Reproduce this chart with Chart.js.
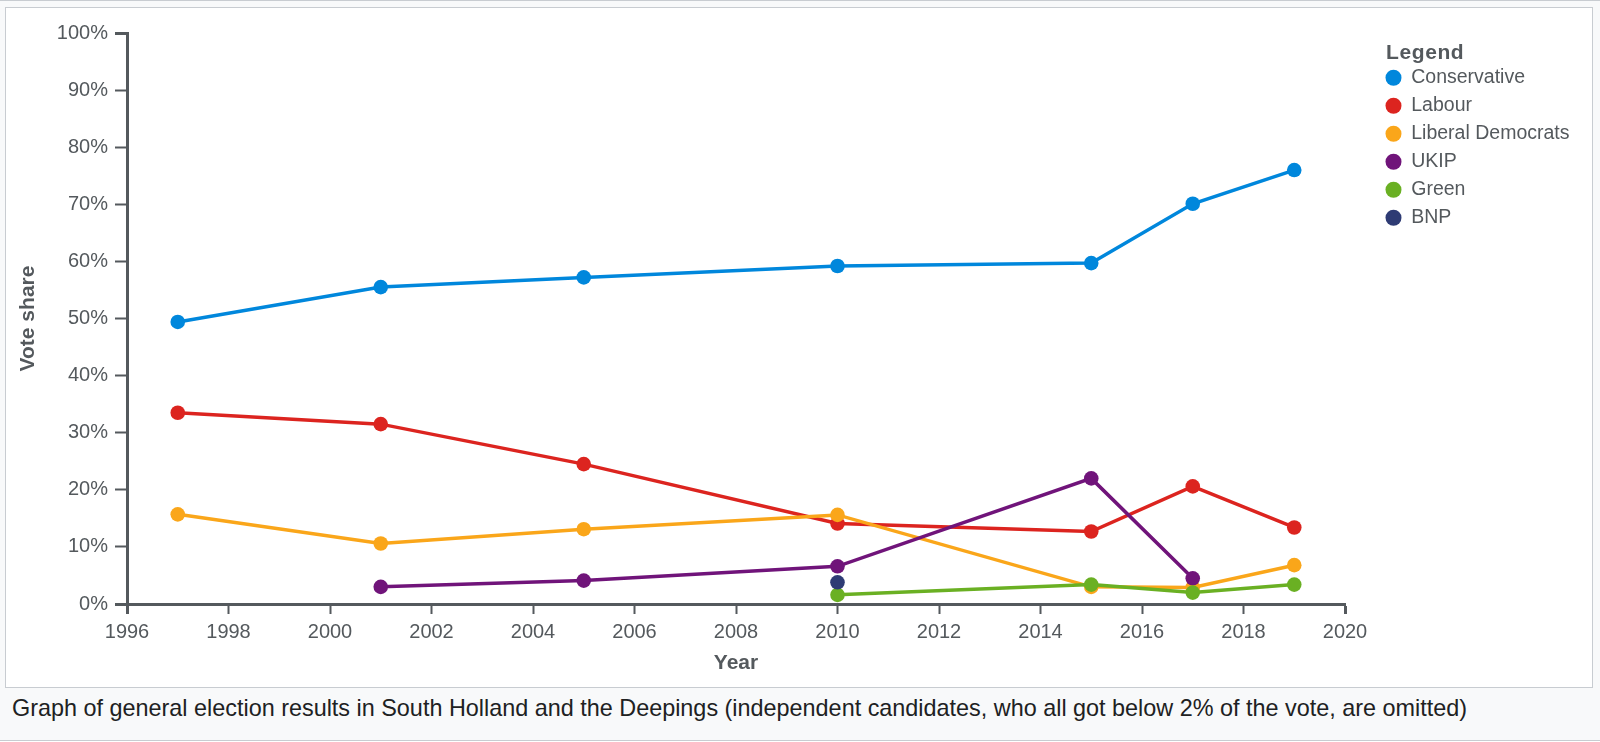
<!DOCTYPE html>
<html lang="en">
  <head>
    <meta charset="UTF-8" />
    <title>South Holland and the Deepings</title>
    <script src="https://cdn.jsdelivr.net/npm/chart.js"></script>
    <style>
      body { margin: 0; background: #fff; font-family: "Liberation Sans", Arial, sans-serif; }
      #outer {
        position: absolute; left: -2px; top: 0; width: 1602px; height: 739px;
        border: 1px solid #c8ccd1; background: #f8f9fa;
      }
      #frame {
        position: absolute; left: 5px; top: 7px; width: 1586px; height: 679px;
        border: 1px solid #c8ccd1; background: #fff;
      }
      #frame canvas { position: absolute; left: 0; top: 0; }
      #caption {
        position: absolute; left: 12px; top: 694px; font-size: 23.4px; line-height: 28px;
        color: #202122; white-space: nowrap;
      }
    </style>
  </head>
  <body>
    <div id="outer"></div>
    <div id="frame"><canvas id="chart" width="1586" height="679"></canvas></div>
    <div id="caption">Graph of general election results in South Holland and the Deepings (independent candidates, who all got below 2% of the vote, are omitted)</div>

    <script>
      const years = [1997, 2001, 2005, 2010, 2015, 2017, 2019];
      const parties = ["Conservative", "Labour", "Liberal Democrats", "UKIP", "Green", "BNP"];
      const conservative = [49.4, 55.5, 57.2, 59.2, 59.7, 70.1, 76.0];
      const labour = [33.5, 31.5, 24.5, 14.1, 12.7, 20.6, 13.4];
      const libDems = [15.7, 10.6, 13.1, 15.6, 3.0, 2.9, 6.8];
      const ukip = [null, 3.0, 4.1, 6.6, 22.0, 4.5, null];
      const green = [null, null, null, 1.6, 3.4, 2.0, 3.4];
      const bnp = [null, null, null, 3.8, null, null, null];
      const colours = ["#0087dc", "#dc241f", "#faa61a", "#70147a", "#6ab023", "#2e3b74"];
      const xTicks = [1996, 2020, 2];
      const yTicks = [0, 100, 10];

      const grey = "#54595d";
      const font = '"Liberation Sans", Arial, sans-serif';

      function points(values) {
        return years
          .map((year, i) => ({ x: year, y: values[i] }))
          .filter((p) => p.y !== null);
      }

      const series = [conservative, labour, libDems, ukip, green, bnp];
      const datasets = series.map((values, i) => ({
        label: parties[i],
        data: points(values),
        borderColor: colours[i],
        backgroundColor: colours[i],
        borderWidth: 3.5,
        pointRadius: 7.3,
        pointHoverRadius: 7.3,
        pointBorderWidth: 0,
        tension: 0,
        order: -i, // later parties sit on top, like the original
      }));

      // legend: fixed width, moved next to the plot, own title
      const legendPlace = {
        id: "legendPlace",
        beforeLayout(chart) {
          const legend = chart.legend;
          if (legend && !legend._fixed) {
            const fit = legend.fit;
            legend.fit = function () {
              fit.call(this);
              this.width = 215;
            };
            legend._fixed = true;
          }
        },
        afterLayout(chart) {
          const legend = chart.legend;
          legend.left = 1371;
          legend.right = 1586;
          legend.top = 51.5;
          legend.bottom = 679;
        },
        afterDraw(chart) {
          const c = chart.ctx;
          c.save();
          c.font = "bold 21px " + font;
          c.letterSpacing = "0.6px";
          c.fillStyle = grey;
          c.textBaseline = "middle";
          c.fillText("Legend", chart.legend.left + 9, 45);
          c.restore();
        },
      };

      const endTick = (last) => (ctx) =>
        ctx.index === 0 || ctx.index === last ? 3 : 2;

      new Chart(document.getElementById("chart"), {
        type: "line",
        data: { datasets },
        options: {
          responsive: false,
          animation: false,
          layout: { padding: { left: 0, top: 25, right: 32, bottom: 11 } },
          scales: {
            x: {
              type: "linear",
              min: xTicks[0],
              max: xTicks[1],
              ticks: {
                stepSize: xTicks[2],
                color: grey,
                font: { family: font, size: 20 },
                padding: 6,
                callback: (v) => String(v),
              },
              grid: {
                drawOnChartArea: false,
                tickLength: 10,
                tickColor: grey,
                tickWidth: endTick(12),
              },
              border: { color: grey, width: 3 },
              title: {
                display: true,
                text: "Year",
                color: grey,
                font: { family: font, size: 21, weight: "bold" },
                padding: { top: 0, bottom: 0 },
              },
              afterFit: (s) => { s.height = 72; },
            },
            y: {
              min: yTicks[0],
              max: yTicks[1],
              ticks: {
                stepSize: yTicks[2],
                color: grey,
                font: { family: font, size: 20 },
                padding: 7,
                callback: (v) => v + "%",
              },
              grid: {
                drawOnChartArea: false,
                tickLength: 12,
                tickColor: grey,
                tickWidth: endTick(10),
              },
              border: { color: grey, width: 3 },
              title: {
                display: true,
                text: "Vote share",
                color: grey,
                font: { family: font, size: 21, weight: "bold" },
                padding: { top: 10, bottom: 0 },
              },
              afterFit: (s) => { s.width = 121; },
            },
          },
          plugins: {
            tooltip: { enabled: false },
            legend: {
              position: "right",
              align: "start",
              labels: {
                color: grey,
                font: { family: font, size: 19.5 },
                usePointStyle: true,
                pointStyle: "circle",
                boxWidth: 16,
                boxHeight: 11.3,
                padding: 8.5,
                sort: (a, b) => a.datasetIndex - b.datasetIndex,
                generateLabels: (chart) =>
                  Chart.defaults.plugins.legend.labels
                    .generateLabels(chart)
                    .map((item) => ({ ...item, lineWidth: 0 })),
              },
            },
          },
        },
        plugins: [legendPlace],
      });
    </script>
  </body>
</html>
